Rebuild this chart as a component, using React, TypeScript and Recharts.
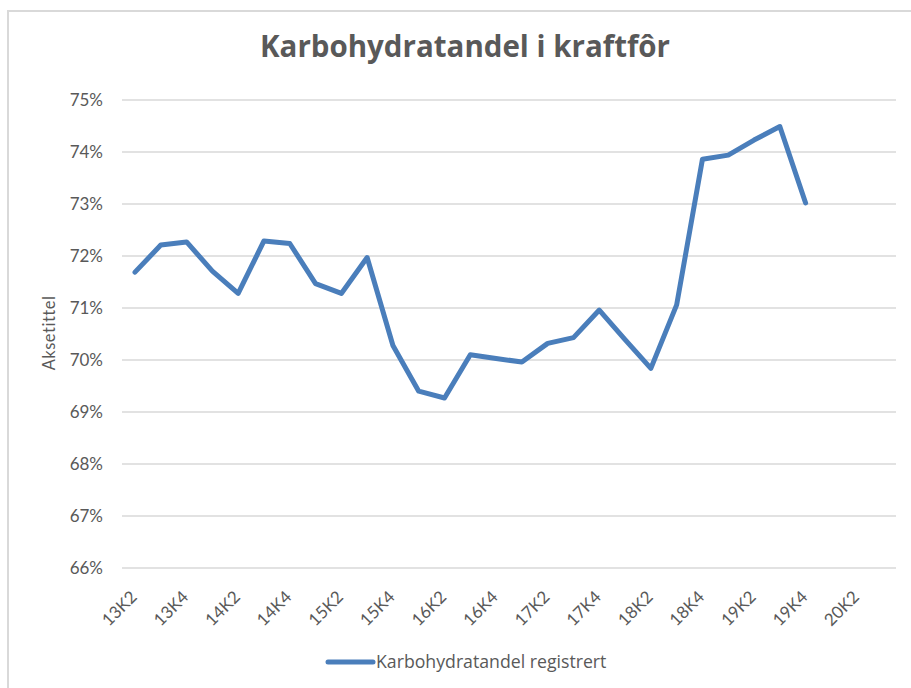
import React from 'react';
import { LineChart, Line, XAxis, YAxis, CartesianGrid, Legend } from 'recharts';

const categories = [
  '13K2', '13K3', '13K4', '14K1', '14K2', '14K3', '14K4', '15K1', '15K2', '15K3',
  '15K4', '16K1', '16K2', '16K3', '16K4', '17K1', '17K2', '17K3', '17K4', '18K1',
  '18K2', '18K3', '18K4', '19K1', '19K2', '19K3', '19K4', '20K1', '20K2', '20K3',
];

const carbShare: (number | null)[] = [
  71.69, 72.21, 72.27, 71.71, 71.28, 72.29, 72.24, 71.47, 71.28, 71.97,
  70.28, 69.40, 69.27, 70.10, 70.03, 69.96, 70.32, 70.43, 70.96, 70.39,
  69.84, 71.06, 73.86, 73.94, 74.23, 74.49, 73.02, null, null, null,
];

const yTicks = [66, 67, 68, 69, 70, 71, 72, 73, 74, 75];

const chartTitle = 'Karbohydratandel i kraftfôr';
const yAxisTitle = 'Aksetittel';
const seriesName = 'Karbohydratandel registrert';

const data = categories.map((c, i) => ({ period: c, value: carbShare[i] }));

const FONT = 'Lato, "Open Sans", sans-serif';
const WIDE_FONT = '"Open Sans", Lato, sans-serif';
const TEXT = '#595959';
const LINE = '#4a7ebb';
const GRID = '#d9d9d9';

const XTick = (props: any) => {
  const { x, y, payload } = props;
  const ax = x + 3;
  const ay = y + 30;
  return (
    <text
      x={ax}
      y={ay}
      transform={`rotate(-45 ${ax} ${ay})`}
      textAnchor="end"
      fill={TEXT}
      fontSize={17}
      fontFamily={FONT}
    >
      {payload.value}
    </text>
  );
};

const LegendContent = () => (
  <svg width={320} height={30} style={{ display: 'block' }}>
    <line x1={10} y1={14} x2={55} y2={14} stroke={LINE} strokeWidth={5} strokeLinecap="round" />
    <text x={58} y={19.5} fill={TEXT} fontSize={17.7} fontFamily={WIDE_FONT}>
      {seriesName}
    </text>
  </svg>
);

export default function App() {
  return (
    <div
      style={{
        position: 'fixed',
        left: 0,
        top: 0,
        width: 911,
        height: 688,
        overflow: 'hidden',
        background: '#fff',
      }}
    >
      <div
        style={{
          position: 'absolute',
          left: 7,
          top: 10,
          width: 940,
          height: 720,
          borderLeft: `2px solid ${GRID}`,
          borderTop: `2px solid ${GRID}`,
          boxSizing: 'border-box',
        }}
      />
      <div style={{ position: 'absolute', left: 0, top: 0 }}>
        <LineChart
          width={911}
          height={688}
          data={data}
          margin={{ top: 100, right: 15, bottom: 60, left: 0 }}
        >
          <CartesianGrid vertical={false} stroke={GRID} strokeWidth={1.5} />
          <XAxis
            dataKey="period"
            interval={1}
            axisLine={false}
            tickLine={false}
            tickSize={0}
            tickMargin={0}
            height={60}
            padding={{ left: 13, right: 13 }}
            tick={<XTick />}
          />
          <YAxis
            domain={[66, 75]}
            ticks={yTicks}
            width={122}
            axisLine={false}
            tickLine={false}
            tickSize={0}
            tickMargin={19}
            tickFormatter={(v: number) => `${v}%`}
            tick={{ fill: TEXT, fontSize: 17, fontFamily: FONT }}
          />
          <Legend
            layout="horizontal"
            verticalAlign="middle"
            align="center"
            wrapperStyle={{ left: 318, top: 648, width: 320, height: 30 }}
            content={<LegendContent />}
          />
          <Line
            type="linear"
            dataKey="value"
            name={seriesName}
            stroke={LINE}
            strokeWidth={5}
            strokeLinejoin="round"
            strokeLinecap="round"
            dot={false}
            activeDot={false}
            isAnimationActive={false}
          />
        </LineChart>
      </div>
      <svg
        width={911}
        height={688}
        style={{ position: 'absolute', left: 0, top: 0, pointerEvents: 'none' }}
      >
        <text
          x={465}
          y={57}
          textAnchor="middle"
          fill={TEXT}
          fontSize={29.5}
          fontWeight="bold"
          fontFamily={WIDE_FONT}
        >
          {chartTitle}
        </text>
        <text
          x={55}
          y={333}
          transform="rotate(-90 55 333)"
          textAnchor="middle"
          fill={TEXT}
          fontSize={16.5}
          fontFamily={FONT}
          letterSpacing={0.5}
        >
          {yAxisTitle}
        </text>
      </svg>
    </div>
  );
}
